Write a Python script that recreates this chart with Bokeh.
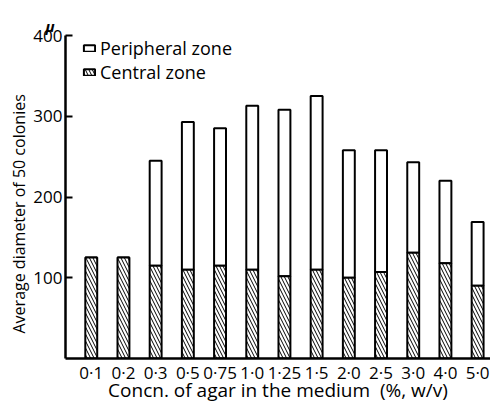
from bokeh.plotting import figure
from bokeh.models import Range1d, FixedTicker, Legend, LegendItem, ColumnDataSource, Title
from bokeh.embed import file_html
from bokeh.resources import INLINE

# Agar concentration (%, w/v) and mean colony diameters (microns)
conc_labels = ["0·1", "0·2", "0·3", "0·5", "0·75", "1·0", "1·25", "1·5",
               "2·0", "2·5", "3·0", "4·0", "5·0"]
central_zone = [125, 125, 115, 110, 115, 110, 102, 110, 100, 107, 131, 118, 90]
whole_colony = [125, 125, 245, 293, 285, 313, 308, 325, 258, 258, 243, 220, 169]
y_ticks = [100, 200, 300, 400]

FONT = "Open Sans"
positions = list(range(len(conc_labels)))

src = ColumnDataSource(dict(x=positions, central=central_zone, total=whole_colony))

p = figure(width=490, height=405, output_backend="svg", toolbar_location=None,
           x_range=Range1d(-0.8, 12.4), y_range=Range1d(0, 400),
           min_border_left=65, min_border_right=0, min_border_top=35,
           min_border_bottom=46, title="μ")
p.outline_line_color = None
p.xgrid.visible = False
p.ygrid.visible = False
p.background_fill_color = "white"
p.border_fill_color = "white"

# unit marker sits above the top of the y axis
p.title.text_font = FONT
p.title.text_font_size = "15px"
p.title.text_font_style = "bold italic"
p.title.text_color = "black"
p.title.align = "left"
p.title.offset = -20
p.title.standoff = 0

# y-axis caption, started a little above the x axis
p.add_layout(Title(text="Average diameter of 50 colonies", align="left", offset=25,
                   text_font=FONT, text_font_size="16px", text_font_style="normal",
                   text_color="black", standoff=2), "left")

bar_w = 0.37
peripheral = p.vbar(x="x", bottom="central", top="total", width=bar_w, source=src,
                    fill_color="white", line_color="black", line_width=2)
central = p.vbar(x="x", top="central", bottom=0, width=bar_w, source=src,
                 fill_color="white", line_color="black", line_width=2,
                 hatch_pattern="\\", hatch_color="black", hatch_scale=7,
                 hatch_weight=1)

# Axes
yax = p.yaxis[0]
yax.ticker = FixedTicker(ticks=y_ticks)
yax.major_tick_in = 7
yax.major_tick_out = 0
yax.minor_tick_line_color = None
yax.axis_line_width = 2.5
yax.major_tick_line_width = 2
yax.major_label_standoff = 3
yax.major_label_text_font = FONT
yax.major_label_text_font_size = "17px"
yax.major_label_text_color = "black"

xax = p.xaxis[0]
xax.ticker = FixedTicker(ticks=positions)
xax.major_label_overrides = {i: lab for i, lab in enumerate(conc_labels)}
xax.major_tick_in = 0
xax.major_tick_out = 0
xax.minor_tick_line_color = None
xax.axis_line_width = 2.5
xax.major_label_standoff = 2
xax.major_label_text_font = FONT
xax.major_label_text_font_size = "17px"
xax.major_label_text_color = "black"
xax.axis_label = "Concn. of agar in the medium\u00a0\u00a0(%, w/v)"
xax.axis_label_text_font = FONT
xax.axis_label_text_font_size = "19px"
xax.axis_label_text_font_style = "normal"
xax.axis_label_text_color = "black"
xax.axis_label_standoff = -10

# one key entry per legend box so the two rows can be placed individually
legend_style = dict(border_line_color=None, background_fill_alpha=0, padding=0,
                    margin=0, glyph_width=14, glyph_height=8, label_standoff=4,
                    label_text_font=FONT, label_text_font_size="18px",
                    label_text_color="black", label_height=18)
p.add_layout(Legend(items=[LegendItem(label="Peripheral zone", renderers=[peripheral])],
                    location=(17, 298), **legend_style), "center")
p.add_layout(Legend(items=[LegendItem(label="Central zone", renderers=[central])],
                    location=(17, 274), **legend_style), "center")

open("out.html", "w").write(file_html(p, INLINE))
